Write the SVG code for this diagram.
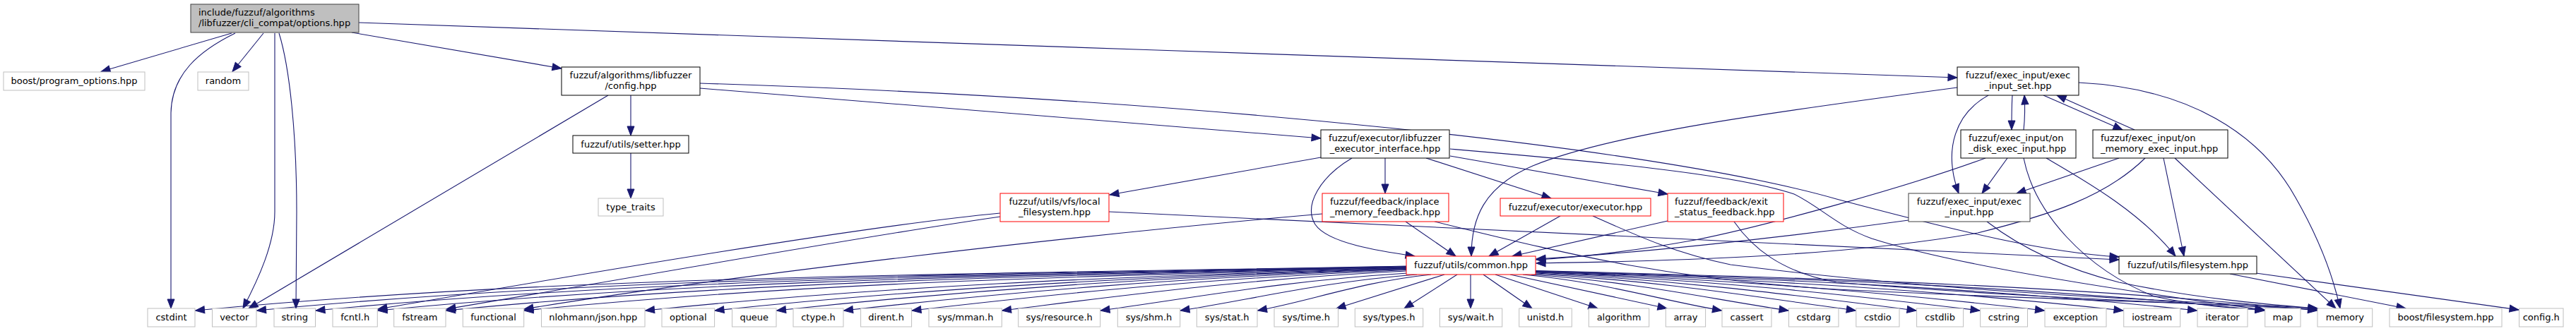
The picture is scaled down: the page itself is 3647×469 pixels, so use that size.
<svg xmlns="http://www.w3.org/2000/svg" width="3647" height="469" viewBox="0 0 3647 469">
<style>
text{font-family:"DejaVu Sans","Liberation Sans",sans-serif;font-size:13px;fill:#000}
.c{text-anchor:middle}
.nd rect{fill:#fff;stroke:#000;stroke-width:1}
.ex rect{fill:#fff;stroke:#bfbfbf;stroke-width:1}
.tr rect{fill:#fff;stroke:#ff0000;stroke-width:1}
.rt rect{fill:#bfbfbf;stroke:#404040;stroke-width:1}
#edges path{fill:none;stroke:#191970;stroke-width:1.1;marker-end:url(#ah)}
</style>
<defs>
<marker id="ah" markerUnits="userSpaceOnUse" markerWidth="15" markerHeight="12" refX="13" refY="5.5" orient="auto" overflow="visible">
<path d="M0,0.5 L13,5.5 L0,10.5 z" fill="#191970" stroke="#191970" stroke-width="1"/>
</marker>
</defs>
<rect width="3647" height="469" fill="#fff"/>
<g id="edges">
<path d="M328,47 L143,101.5"/>
<path d="M373,47 L329,101.5"/>
<path d="M333,47 C282,72 243,105 242,160 L242,437"/>
<path d="M389,47 L389,300 C389,345 366,395 344,437"/>
<path d="M395,47 C410,95 420,190 420,300 L419,437"/>
<path d="M498,46 L795,97"/>
<path d="M508,32 C1000,48 2300,95 2771,110"/>
<path d="M893,135 L893,192"/>
<path d="M893,217 L893,281"/>
<path d="M861,135 L352,437"/>
<path d="M991,125 L1870,196"/>
<path d="M991,118 C1700,140 2350,210 2600,282 C2780,330 2900,358 3000,364"/>
<path d="M1870,223 L1571,276"/>
<path d="M1961,224 L1961,274"/>
<path d="M1914,224 C1870,250 1845,290 1862,318 C1880,345 1955,356 2003,363"/>
<path d="M2019,224 L2196,281"/>
<path d="M2053,221 L2361,275"/>
<path d="M2053,211 C2250,228 2450,245 2540,275 C2580,295 2600,320 2650,338 C2750,370 2950,405 3206,439"/>
<path d="M1416,302 C1200,322 700,410 535,438"/>
<path d="M1416,307 C1200,338 800,410 632,438"/>
<path d="M1570,300 C2100,325 2600,352 3000,368"/>
<path d="M1990,314 L2061,363"/>
<path d="M1872,303 C1500,335 1000,395 742,438"/>
<path d="M2031,314 C2200,355 2350,395 2600,410 C2900,425 3150,430 3281,438"/>
<path d="M2209,306 L2108,363"/>
<path d="M2255,306 C2320,335 2370,358 2450,375 C2800,420 3150,428 3281,437"/>
<path d="M2361,313 L2141,363"/>
<path d="M2455,314 C2480,350 2520,385 2600,400 C2900,425 3150,430 3281,439"/>
<path d="M2849,135 C2848,150 2848,165 2848,184"/>
<path d="M2865,184 C2867,165 2867,150 2866,135"/>
<path d="M2893,135 L3005,184"/>
<path d="M3022,184 L2912,135"/>
<path d="M2815,135 C2770,160 2750,210 2773,274"/>
<path d="M2771,124 C2500,160 2280,190 2170,235 C2100,265 2083,310 2083,363"/>
<path d="M2943,117 C3100,125 3200,190 3250,280 C3290,350 3305,400 3313,437"/>
<path d="M2842,224 L2806,274"/>
<path d="M3000,224 L2855,274"/>
<path d="M2811,224 C2700,265 2500,320 2400,340 C2300,358 2230,365 2175,368"/>
<path d="M2897,224 C2950,255 3030,300 3080,363"/>
<path d="M2865,224 C2880,300 2950,380 3050,420 C3120,435 3170,437 3206,439"/>
<path d="M3063,224 L3092,363"/>
<path d="M3079,224 L3307,437"/>
<path d="M3037,224 C2980,280 2900,305 2800,330 C2600,365 2350,370 2175,373"/>
<path d="M2702,312 C2500,340 2300,360 2175,367"/>
<path d="M2813,314 C2860,350 2920,380 3000,400 C3120,425 3220,432 3281,437"/>
<path d="M3157,388 L3406,437"/>
<path d="M3194,387 L3566,439"/>
<path d="M1991,377 C1305,390 791,391 276.5,440"/>
<path d="M1991,377.5 C1340,390 852,393 363.5,440"/>
<path d="M1991,378 C1373,390.4 910,395.4 447,440"/>
<path d="M1991,378.5 C1408.6,390.8 971.8,397.6 535,440"/>
<path d="M1991,379 C1447,391.2 1039.4,399.9 631.5,440"/>
<path d="M1991,379.5 C1491.4,391.6 1116.7,402.5 742,440"/>
<path d="M1991,380 C1560,392 1236.8,406.6 913.5,440"/>
<path d="M1991,380.5 C1599.4,392.4 1305.7,409 1012,440"/>
<path d="M1991,381 C1634.4,392.8 1367,411.1 1099.5,440"/>
<path d="M1991,381.5 C1672.4,393.2 1433.5,413.4 1194.5,440"/>
<path d="M1991,382.5 C1711,394 1501,415.7 1291,440"/>
<path d="M1991,384 C1762,395.2 1590.3,418.8 1418.5,440"/>
<path d="M1993,387 C1819,397.6 1688.5,422.1 1558,440"/>
<path d="M2006,389 C1872,399.2 1771.5,424.5 1671,440"/>
<path d="M2026,389 C1927.8,399.2 1854.2,426.6 1780.5,440"/>
<path d="M2045,389 L1892,437"/>
<path d="M2063,389 L1988,437"/>
<path d="M2082,389 L2082,437"/>
<path d="M2100,389 L2169,437"/>
<path d="M2117,389 L2262,437"/>
<path d="M2138,389 L2360,437"/>
<path d="M2156,389 C2268.6,399.2 2353,425.7 2437.5,440"/>
<path d="M2168,389 C2313.6,399.2 2422.8,423.8 2532,440"/>
<path d="M2174,388 C2355.3,398.4 2491.3,421.6 2627.3,440"/>
<path d="M2174,387 C2389.6,397.6 2551.3,419.6 2713,440"/>
<path d="M2174,386 C2425.6,396.8 2614.3,417.4 2803,440"/>
<path d="M2174,385.5 C2462.2,396.4 2678.4,415.2 2894.5,440"/>
<path d="M2174,385 C2506.8,396 2756.4,412.5 3006,440"/>
<path d="M2174,384.5 C2548.6,395.6 2829.6,410 3110.5,440"/>
<path d="M2174,384 C2586.8,395.2 2896.4,407.7 3206,440"/>
<path d="M2174,383.5 C2616.6,394.8 2948.6,405.9 3280.5,440"/>
</g>
<g id="n_root" class="rt"><rect x="270" y="6" width="238" height="40"/><text x="281" y="22">include/fuzzuf/algorithms</text><text x="281" y="37">/libfuzzer/cli_compat/options.hpp</text></g>
<g id="n_boost_po" class="ex"><rect x="5" y="102" width="200" height="26"/><text class="c" x="105" y="119">boost/program_options.hpp</text></g>
<g id="n_random" class="ex"><rect x="280" y="102" width="72" height="26"/><text class="c" x="316" y="119">random</text></g>
<g id="n_config" class="nd"><rect x="795" y="95" width="196" height="40"/><text class="c" x="893" y="111">fuzzuf/algorithms/libfuzzer</text><text class="c" x="893" y="126">/config.hpp</text></g>
<g id="n_setter" class="nd"><rect x="811" y="192" width="164" height="25"/><text class="c" x="893" y="209">fuzzuf/utils/setter.hpp</text></g>
<g id="n_type_traits" class="ex"><rect x="847" y="281" width="92" height="25"/><text class="c" x="893" y="298">type_traits</text></g>
<g id="n_exec_input_set" class="nd"><rect x="2771" y="95" width="172" height="40"/><text class="c" x="2857" y="111">fuzzuf/exec_input/exec</text><text class="c" x="2857" y="126">_input_set.hpp</text></g>
<g id="n_exec_iface" class="nd"><rect x="1870" y="184" width="182" height="40"/><text class="c" x="1961" y="200">fuzzuf/executor/libfuzzer</text><text class="c" x="1961" y="215">_executor_interface.hpp</text></g>
<g id="n_on_disk" class="nd"><rect x="2776" y="184" width="163" height="40"/><text x="2787" y="200">fuzzuf/exec_input/on</text><text x="2787" y="215">_disk_exec_input.hpp</text></g>
<g id="n_on_memory" class="nd"><rect x="2963" y="184" width="191" height="40"/><text x="2974" y="200">fuzzuf/exec_input/on</text><text x="2974" y="215">_memory_exec_input.hpp</text></g>
<g id="n_local_fs" class="tr"><rect x="1416" y="274" width="154" height="40"/><text class="c" x="1493" y="290">fuzzuf/utils/vfs/local</text><text class="c" x="1493" y="305">_filesystem.hpp</text></g>
<g id="n_inplace" class="tr"><rect x="1872" y="274" width="179" height="40"/><text x="1883" y="290">fuzzuf/feedback/inplace</text><text x="1883" y="305">_memory_feedback.hpp</text></g>
<g id="n_executor" class="tr"><rect x="2124" y="281" width="213" height="25"/><text class="c" x="2230.5" y="298">fuzzuf/executor/executor.hpp</text></g>
<g id="n_exit_status" class="tr"><rect x="2361" y="274" width="164" height="40"/><text x="2371" y="290">fuzzuf/feedback/exit</text><text x="2371" y="305">_status_feedback.hpp</text></g>
<g id="n_exec_input" class="nd"><rect x="2702" y="274" width="172" height="40" style="stroke:#404040"/><text class="c" x="2788" y="290">fuzzuf/exec_input/exec</text><text class="c" x="2788" y="305">_input.hpp</text></g>
<g id="n_common" class="tr"><rect x="1991" y="363" width="183" height="26"/><text class="c" x="2082.5" y="380">fuzzuf/utils/common.hpp</text></g>
<g id="n_filesystem" class="nd"><rect x="3000" y="363" width="195" height="25"/><text class="c" x="3097.5" y="380">fuzzuf/utils/filesystem.hpp</text></g>
<g id="n_cstdint" class="ex"><rect x="209" y="437" width="67" height="26"/><text class="c" x="242.5" y="454">cstdint</text></g>
<g id="n_vector" class="ex"><rect x="300.5" y="437" width="62.5" height="26"/><text class="c" x="331.75" y="454">vector</text></g>
<g id="n_string" class="ex"><rect x="388" y="437" width="58.5" height="26"/><text class="c" x="417.25" y="454">string</text></g>
<g id="n_fcntl" class="ex"><rect x="471" y="437" width="63.3" height="26"/><text class="c" x="502.65" y="454">fcntl.h</text></g>
<g id="n_fstream" class="ex"><rect x="557.7" y="437" width="73.3" height="26"/><text class="c" x="594.35" y="454">fstream</text></g>
<g id="n_functional" class="ex"><rect x="655.3" y="437" width="86.4" height="26"/><text class="c" x="698.5" y="454">functional</text></g>
<g id="n_json" class="ex"><rect x="766.5" y="437" width="146.5" height="26"/><text class="c" x="839.75" y="454">nlohmann/json.hpp</text></g>
<g id="n_optional" class="ex"><rect x="937" y="437" width="74.6" height="26"/><text class="c" x="974.3" y="454">optional</text></g>
<g id="n_queue" class="ex"><rect x="1036.5" y="437" width="62.5" height="26"/><text class="c" x="1067.75" y="454">queue</text></g>
<g id="n_ctype" class="ex"><rect x="1123" y="437" width="71" height="26"/><text class="c" x="1158.5" y="454">ctype.h</text></g>
<g id="n_dirent" class="ex"><rect x="1218.6" y="437" width="72" height="26"/><text class="c" x="1254.6" y="454">dirent.h</text></g>
<g id="n_mman" class="ex"><rect x="1315" y="437" width="103.3" height="26"/><text class="c" x="1366.65" y="454">sys/mman.h</text></g>
<g id="n_resource" class="ex"><rect x="1441.7" y="437" width="116" height="26"/><text class="c" x="1499.7" y="454">sys/resource.h</text></g>
<g id="n_shm" class="ex"><rect x="1582.3" y="437" width="88.4" height="26"/><text class="c" x="1626.5" y="454">sys/shm.h</text></g>
<g id="n_stat" class="ex"><rect x="1694.3" y="437" width="85.7" height="26"/><text class="c" x="1737.15" y="454">sys/stat.h</text></g>
<g id="n_time" class="ex"><rect x="1804" y="437" width="90.5" height="26"/><text class="c" x="1849.25" y="454">sys/time.h</text></g>
<g id="n_types" class="ex"><rect x="1918.3" y="437" width="96.4" height="26"/><text class="c" x="1966.5" y="454">sys/types.h</text></g>
<g id="n_wait" class="ex"><rect x="2038.3" y="437" width="88.4" height="26"/><text class="c" x="2082.5" y="454">sys/wait.h</text></g>
<g id="n_unistd" class="ex"><rect x="2150.7" y="437" width="74.6" height="26"/><text class="c" x="2188" y="454">unistd.h</text></g>
<g id="n_algorithm" class="ex"><rect x="2249.3" y="437" width="85.4" height="26"/><text class="c" x="2292" y="454">algorithm</text></g>
<g id="n_array" class="ex"><rect x="2358.3" y="437" width="56.3" height="26"/><text class="c" x="2386.45" y="454">array</text></g>
<g id="n_cassert" class="ex"><rect x="2438" y="437" width="70" height="26"/><text class="c" x="2473" y="454">cassert</text></g>
<g id="n_cstdarg" class="ex"><rect x="2532.5" y="437" width="70.5" height="26"/><text class="c" x="2567.75" y="454">cstdarg</text></g>
<g id="n_cstdio" class="ex"><rect x="2627.8" y="437" width="61.2" height="26"/><text class="c" x="2658.4" y="454">cstdio</text></g>
<g id="n_cstdlib" class="ex"><rect x="2713.6" y="437" width="66" height="26"/><text class="c" x="2746.6" y="454">cstdlib</text></g>
<g id="n_cstring" class="ex"><rect x="2803.7" y="437" width="66.8" height="26"/><text class="c" x="2837.1" y="454">cstring</text></g>
<g id="n_exception" class="ex"><rect x="2895" y="437" width="87" height="26"/><text class="c" x="2938.5" y="454">exception</text></g>
<g id="n_iostream" class="ex"><rect x="3006.7" y="437" width="80" height="26"/><text class="c" x="3046.7" y="454">iostream</text></g>
<g id="n_iterator" class="ex"><rect x="3111" y="437" width="71" height="26"/><text class="c" x="3146.5" y="454">iterator</text></g>
<g id="n_map" class="ex"><rect x="3206.7" y="437" width="50.3" height="26"/><text class="c" x="3231.85" y="454">map</text></g>
<g id="n_memory" class="ex"><rect x="3281" y="437" width="77.7" height="26"/><text class="c" x="3319.85" y="454">memory</text></g>
<g id="n_boost_fs" class="ex"><rect x="3383" y="437" width="159" height="26"/><text class="c" x="3462.5" y="454">boost/filesystem.hpp</text></g>
<g id="n_config_h" class="ex"><rect x="3566.5" y="437" width="62.5" height="26"/><text class="c" x="3597.75" y="454">config.h</text></g>
</svg>
